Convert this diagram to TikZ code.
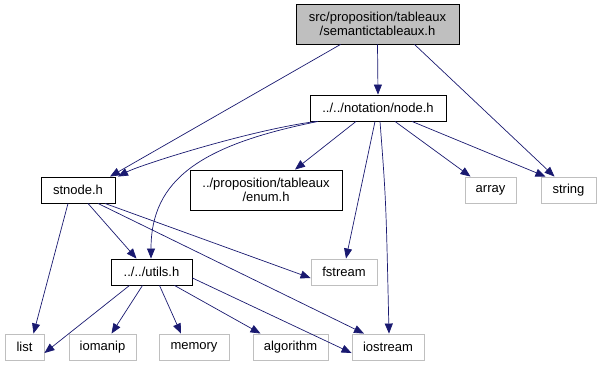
\documentclass[tikz,border=0pt]{standalone}
\usepackage{fontspec}
\setmainfont{Liberation Sans}
\usetikzlibrary{arrows.meta}
\definecolor{edgeblue}{HTML}{191970}
\definecolor{sysgray}{HTML}{BFBFBF}
\tikzset{
  x=1pt, y=-1pt,
  filebox/.style={draw=black, line width=0.9pt, inner sep=0pt, minimum height=26pt,
    font=\fontsize{13}{14.5}\selectfont, align=center},
  sysbox/.style={filebox, draw=sysgray},
  rootbox/.style={filebox, fill=sysgray, minimum height=40pt},
  dep/.style={draw=edgeblue, line width=0.7pt,
    -{Triangle[length=10pt,width=8pt,fill=edgeblue]}},
}
\begin{document}
\begin{tikzpicture}
\useasboundingbox (0,0) rectangle (601,365);
% headers
\node[rootbox, minimum width=163pt] (root) at (377.5,24) {src/proposition/tableaux\\/semantictableaux.h};
\node[filebox, minimum width=136pt] (node) at (378,108) {../../notation/node.h};
\node[filebox, minimum width=74pt] (stnode) at (78,190) {stnode.h};
\node[filebox, minimum width=152pt, minimum height=40pt] (enum) at (266,190) {../proposition/tableaux\\/enum.h};
\node[sysbox, minimum width=51pt] (array) at (490.5,190) {array};
\node[sysbox, minimum width=55pt] (string) at (568.5,190) {string};
\node[filebox, minimum width=81pt] (utils) at (151.5,272) {../../utils.h};
\node[sysbox, minimum width=66pt] (fstream) at (344,272) {fstream};
\node[sysbox, minimum width=39pt] (list) at (24.5,347) {list};
\node[sysbox, minimum width=67pt] (iomanip) at (102.5,347) {iomanip};
\node[sysbox, minimum width=70pt] (memory) at (194,347) {memory};
\node[sysbox, minimum width=75pt] (algorithm) at (290.5,347) {algorithm};
\node[sysbox, minimum width=72pt] (iostream) at (388,347) {iostream};
% includes of semantictableaux.h
\draw[dep] ([xshift=-37pt]root.south) -- ([xshift=32pt]stnode.north);
\draw[dep] (root.south) -- (node.north);
\draw[dep] ([xshift=37pt]root.south) -- ([xshift=-14pt]string.north);
% includes of node.h
\draw[dep] ([xshift=-62pt]node.south) .. controls (250,130) and (140,165) .. ([xshift=40pt]stnode.north);
\draw[dep] ([xshift=-60pt]node.south) .. controls (200,145) and (151,180) .. ([xshift=-0.5pt]utils.north);
\draw[dep] ([xshift=-22pt]node.south) -- ([xshift=29pt]enum.north);
\draw[dep] ([xshift=-3pt]node.south) -- ([xshift=2pt]fstream.north);
\draw[dep] ([xshift=2pt]node.south) .. controls (386,200) .. ([xshift=1pt]iostream.north);
\draw[dep] ([xshift=17pt]node.south) -- ([xshift=-20pt]array.north);
\draw[dep] ([xshift=34pt]node.south) -- ([xshift=-23pt]string.north);
% includes of stnode.h
\draw[dep] ([xshift=-10pt]stnode.south) -- ([xshift=9pt]list.north);
\draw[dep] ([xshift=10pt]stnode.south) -- ([xshift=-15pt]utils.north);
\draw[dep] ([xshift=27pt]stnode.south) -- ([yshift=-6pt]fstream.west);
\draw[dep] ([xshift=20pt]stnode.south) -- ([xshift=-24pt]iostream.north);
% includes of utils.h
\draw[dep] ([xshift=-22pt]utils.south) -- ([yshift=-6pt]list.east);
\draw[dep] ([xshift=-9pt]utils.south) -- ([xshift=9pt]iomanip.north);
\draw[dep] ([xshift=8pt]utils.south) -- ([xshift=-13pt]memory.north);
\draw[dep] ([xshift=23pt]utils.south) -- ([xshift=-30pt]algorithm.north);
\draw[dep] ([yshift=-6pt]utils.east) -- ([yshift=-6pt]iostream.west);
\end{tikzpicture}
\end{document}
